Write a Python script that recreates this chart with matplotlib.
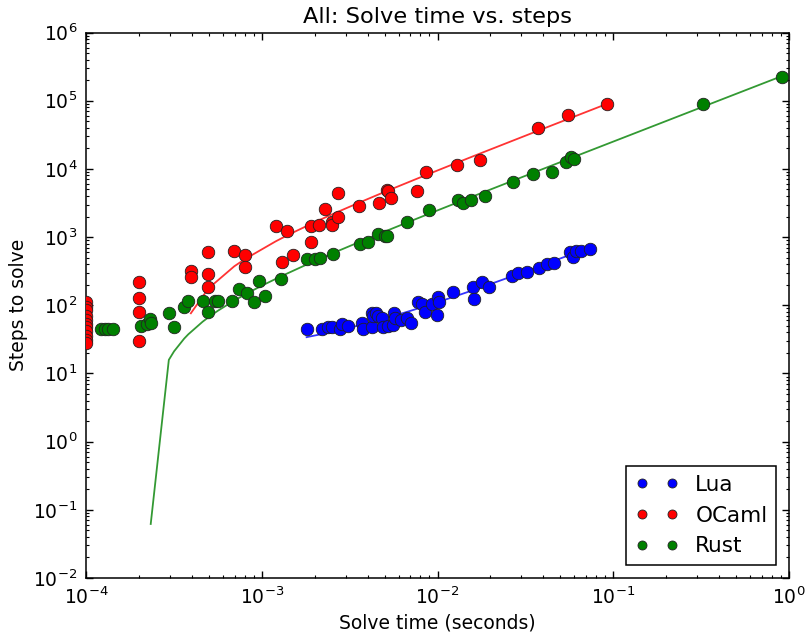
import numpy as np
import matplotlib
matplotlib.use('Agg')
import matplotlib.pyplot as plt

# solve time (seconds) and steps
lua_time = [1.80e-3, 2.19e-3, 2.39e-3, 2.50e-3, 2.79e-3, 2.88e-3, 3.10e-3, 3.70e-3,
            3.75e-3, 4.22e-3, 4.22e-3, 4.31e-3, 4.46e-3, 4.60e-3, 4.81e-3, 4.91e-3,
            5.25e-3, 5.60e-3, 5.65e-3, 5.70e-3, 6.17e-3, 6.67e-3, 7.03e-3, 7.76e-3,
            8.12e-3, 8.48e-3, 9.25e-3, 9.89e-3, 1.01e-2, 1.02e-2, 1.23e-2, 1.60e-2,
            1.61e-2, 1.78e-2, 1.96e-2, 2.64e-2, 2.88e-2, 3.24e-2, 3.79e-2, 4.21e-2,
            4.59e-2, 5.66e-2, 5.91e-2, 6.12e-2, 6.52e-2, 7.36e-2]
lua_steps = [45, 45, 47.6, 48.5, 44.5, 53.2, 50.2, 54.5,
             45, 47.6, 76, 69.7, 77.8, 69.7, 64.4, 47.6,
             49.7, 51.4, 77.8, 64.4, 60.8, 64.4, 55.6, 113,
             104, 80.5, 104, 72, 134, 113, 158, 184,
             122, 222, 184, 272, 294, 311, 356, 399,
             413, 611, 516, 632, 632, 662]

ocaml_time = [1e-4] * 11 + [2.01e-4] * 4 + [3.95e-4, 3.95e-4, 4.97e-4, 4.97e-4, 4.97e-4,
              6.98e-4, 8.02e-4, 8.02e-4, 1.20e-3, 1.30e-3, 1.40e-3, 1.50e-3, 1.90e-3,
              1.90e-3, 2.12e-3, 2.29e-3, 2.52e-3, 2.52e-3, 2.70e-3, 2.72e-3, 3.59e-3,
              4.62e-3, 5.13e-3, 5.20e-3, 5.43e-3, 7.67e-3, 8.63e-3, 1.285e-2, 1.74e-2,
              3.71e-2, 5.53e-2, 9.17e-2]
ocaml_steps = [112, 95, 85, 70, 61, 53, 48, 42, 36, 31, 28,
               222, 127, 79, 30.3,
               321, 262, 611, 285, 184,
               632, 547, 360, 1469, 427, 1228, 547, 1469,
               839, 1503, 2557, 1648, 1503, 4385, 1950, 2858,
               3194, 4907, 4700, 3781, 4786, 8913, 11400, 13500,
               40200, 61100, 89500]

rust_time = [1.22e-4, 1.28e-4, 1.34e-4, 1.42e-4, 2.05e-4, 2.21e-4, 2.30e-4, 2.335e-4,
             2.96e-4, 3.17e-4, 3.62e-4, 3.82e-4, 4.61e-4, 4.97e-4, 5.42e-4, 5.66e-4,
             6.79e-4, 7.41e-4, 8.20e-4, 9.03e-4, 9.69e-4, 1.04e-3, 1.285e-3, 1.80e-3,
             2.01e-3, 2.14e-3, 2.55e-3, 3.62e-3, 4.04e-3, 4.60e-3, 5.03e-3, 5.13e-3,
             6.67e-3, 8.98e-3, 1.30e-2, 1.40e-2, 1.55e-2, 1.86e-2, 2.70e-2, 3.48e-2,
             4.49e-2, 5.35e-2, 5.74e-2, 6.00e-2, 0.322, 0.9066]
rust_steps = [44.5, 44.5, 44.5, 44.5, 49.7, 52.6, 62.3, 55,
              76.3, 48.5, 95.5, 117, 117, 80.5, 115, 117,
              117, 172, 150, 113, 230, 137, 240, 472,
              472, 489, 565, 792, 839, 1110, 1037, 1037,
              1683, 2496, 3499, 3194, 3499, 4046, 6365, 8337,
              8913, 12760, 14800, 13830, 89500, 2.25e5]

# linear fits (steps = slope * time + intercept) as drawn in the chart
lua_fit = (9361.0, 17.2)
ocaml_fit = (979400.0, -310.6)
rust_fit = (252000.0, -58.78)

names = ['Lua', 'OCaml', 'Rust']
colors = ['b', 'r', 'g']

plt.rcParams['font.family'] = 'DejaVu Sans'
plt.rcParams['font.size'] = 13.5
plt.rcParams['mathtext.default'] = 'regular'

fig = plt.figure(figsize=(8.06, 6.39), dpi=100)
ax = fig.add_axes([86 / 806, 1 - 578 / 639, 703 / 806, 545.5 / 639])

series = [(lua_time, lua_steps, lua_fit), (ocaml_time, ocaml_steps, ocaml_fit),
          (rust_time, rust_steps, rust_fit)]

for (t, s, fit), name, c in zip(series, names, colors):
    t = np.array(t)
    ts = np.sort(t)
    line = fit[0] * ts + fit[1]
    line = np.where(line > 0, line, np.nan)
    ax.plot(ts, line, '-', color=c, lw=1.3, alpha=0.8, zorder=2)

for (t, s, fit), name, c in zip(series, names, colors):
    ax.plot(t, s, 'o', color=c, ms=9, mec='#222222', mew=0.6, label=name, zorder=3)

ax.set_xscale('log')
ax.set_yscale('log')
ax.set_xlim(1e-4, 1e0)
ax.set_ylim(1e-2, 1e6)

ax.tick_params(which='both', direction='in', top=True, right=True, labelsize=13.5, pad=6)
ax.tick_params(which='major', length=5, width=1)
ax.tick_params(which='minor', length=2.5, width=0.8)
for sp in ax.spines.values():
    sp.set_linewidth(1.1)

ax.set_title('All: Solve time vs. steps', fontsize=16.2, pad=7)
ax.set_xlabel('Solve time (seconds)', fontsize=13.5)
ax.set_ylabel('Steps to solve', fontsize=13.5)

leg = ax.legend(loc='lower right', numpoints=2, fontsize=15.5, markerscale=0.72,
                fancybox=False, framealpha=1, edgecolor='black', borderaxespad=0.6)
leg.get_frame().set_linewidth(1.1)

fig.savefig('out.png', dpi=100, facecolor='white')
